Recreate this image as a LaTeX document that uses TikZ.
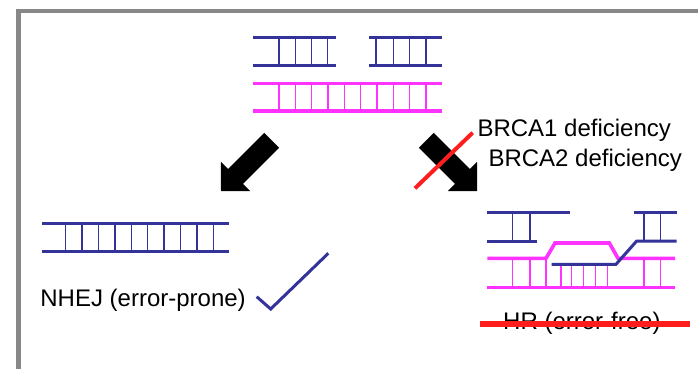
\documentclass[tikz,border=0pt]{standalone}
\usepackage{fontspec}
\setmainfont{Liberation Sans}
\begin{document}
\begin{tikzpicture}[x=1pt,y=-1pt,
  every node/.style={inner sep=0pt,anchor=base west,font=\fontsize{24}{28}\selectfont},
  bluerail/.style={draw=dnablue,line width=3pt},
  pinkrail/.style={draw=dnapink,line width=3.6pt},
  bluerung/.style={draw=dnablue,line width=1.3pt},
  pinkrung/.style={draw=dnapink,line width=1.3pt},
  bigarrow/.style={fill=black,draw=none},
  strike/.style={draw=strikered,line width=4pt},
  frameline/.style={draw=framegray,line width=4.5pt,line join=miter}]
\definecolor{dnablue}{RGB}{51,51,153}
\definecolor{dnapink}{RGB}{255,51,255}
\definecolor{strikered}{RGB}{255,30,30}
\definecolor{framegray}{RGB}{136,136,136}
\useasboundingbox (0,0) rectangle (698,369);
\fill[white] (0,0) rectangle (698,369);

% frame
\draw[frameline] (18.3,369) -- (18.3,10.8) -- (698,10.8);

% broken duplex at the top
\draw[bluerail] (253.3,37.3) -- (335.7,37.3) (253.3,65) -- (335.7,65);
\foreach \x in {279,295.7,311.7,327.7} \draw[bluerung] (\x,37.3) -- (\x,65);
\draw[bluerail] (369.3,37.3) -- (442.3,37.3) (369.3,65) -- (442.3,65);
\foreach \x in {376,393.3,409.3,426} \draw[bluerung] (\x,37.3) -- (\x,65);
\draw[pinkrail] (253.3,83.3) -- (442.3,83.3) (253.3,111) -- (442.3,111);
\foreach \k in {0,...,9} \draw[pinkrung] (279+16.33*\k,83.3) -- (279+16.33*\k,111);

% arrows
\draw[bigarrow] (221,191) -- (250.2,191) -- (243,183.8) -- (279.1,147.7)
  -- (264.3,132.9) -- (228.2,169) -- (220.9,161.8) -- cycle;
\draw[bigarrow] (477,191) -- (447.8,191) -- (455,183.8) -- (418.9,147.7)
  -- (433.7,132.9) -- (469.8,169) -- (477.1,161.8) -- cycle;
\draw[strike] (415,188.3) -- (472.7,132.7);

\node (brca1) at (477.3,136.7) {BRCA1 deficiency};
\node (brca2) at (488.3,166.7) {BRCA2 deficiency};

% rejoined duplex (NHEJ)
\draw[bluerail] (41.7,223.3) -- (229.3,223.3) (41.7,251.7) -- (229.3,251.7);
\foreach \k in {0,...,9} \draw[bluerung] (65.7+16.4*\k,223.3) -- (65.7+16.4*\k,251.7);
\node (nhej) at (40.2,306) {NHEJ (error-prone)};
\draw[dnablue,line width=3pt,line join=miter] (256.7,296.7) -- (270.7,309) -- (328.3,253.3);

% strand invasion (HR)
\draw[bluerail] (487.3,212.7) -- (570,212.7) (487.3,241) -- (537.3,241);
\foreach \x in {512.7,530} \draw[bluerung] (\x,212.7) -- (\x,241);
\draw[bluerail] (634,212.7) -- (676.7,212.7);
\foreach \x in {644,660.7} \draw[bluerung] (\x,212.7) -- (\x,241);
\draw[pinkrail,line join=miter] (487.3,258.3) -- (546,258.3) -- (555,243) -- (609.3,243)
  -- (618,258.3) -- (675,258.3);
\draw[pinkrail] (487.3,287.3) -- (675,287.3);
\foreach \x in {512.7,530,546,644,660.7} \draw[pinkrung] (\x,258.3) -- (\x,287.3);
\foreach \x in {561,571.7,583.3,595.7,607.5} \draw[pinkrung] (\x,264.3) -- (\x,287.3);
\draw[bluerail] (551.7,264.3) -- (616,264.3) -- (636.7,241) -- (676.7,241);

\node (hr) at (503,329) {HR (error-free)};
\draw[strike,line width=6pt] (480,323.7) -- (690,323.7);
\end{tikzpicture}
\end{document}
